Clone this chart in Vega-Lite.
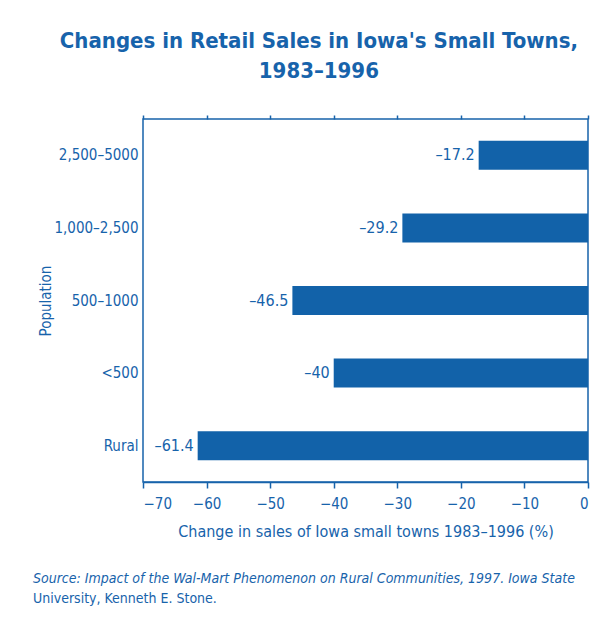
{
  "$schema": "https://vega.github.io/schema/vega-lite/v6.json",
  "background": "white",
  "padding": {"left": 32, "top": 29, "right": 5, "bottom": 5},
  "title": {
    "text": ["Changes in Retail Sales in Iowa's Small Towns,", "1983–1996"],
    "font": "DejaVu Sans Condensed, Roboto, sans-serif",
    "fontWeight": "bold",
    "fontSize": 22,
    "lineHeight": 30,
    "color": "#1763ab",
    "anchor": "middle",
    "dx": 8,
    "offset": 31
  },
  "vconcat": [
    {
      "width": 445,
      "height": 363,
      "title": {
        "text": "Source: Impact of the Wal-Mart Phenomenon on Rural Communities, 1997. Iowa State",
        "subtitle": "University, Kenneth E. Stone.",
        "orient": "bottom",
        "anchor": "start",
        "frame": "bounds",
        "dx": -5,
        "font": "DejaVu Sans Condensed, Roboto, sans-serif",
        "fontStyle": "italic",
        "fontWeight": "normal",
        "fontSize": 14,
        "color": "#1763ab",
        "subtitleFont": "DejaVu Sans Condensed, Roboto, sans-serif",
        "subtitleFontSize": 14,
        "subtitleColor": "#1763ab",
        "subtitlePadding": 6,
        "offset": 33
      },
      "data": {
        "values": [
          {"population": "2,500–5000", "value": -17.2, "label": "–17.2"},
          {"population": "1,000–2,500", "value": -29.2, "label": "–29.2"},
          {"population": "500–1000", "value": -46.5, "label": "–46.5"},
          {"population": "<500", "value": -40, "label": "–40"},
          {"population": "Rural", "value": -61.4, "label": "–61.4"}
        ]
      },
      "resolve": {"axis": {"x": "independent"}},
      "layer": [
        {
          "mark": {"type": "bar", "color": "#1262a9"},
          "encoding": {
            "y": {
              "field": "population",
              "type": "nominal",
              "sort": null,
              "scale": {"paddingInner": 0.6, "paddingOuter": 0.3},
              "axis": {"title": "Population", "ticks": false, "labelPadding": 5, "titlePadding": 1, "domain": false}
            },
            "x": {
              "field": "value",
              "type": "quantitative",
              "scale": {"domain": [-70, 0], "nice": false},
              "axis": {
                "orient": "bottom",
                "title": "Change in sales of Iowa small towns 1983–1996  (%)",
                "titleFontSize": 16,
                "values": [-70, -60, -50, -40, -30, -20, -10, 0],
                "tickSize": 6,
                "labelPadding": 8,
                "titlePadding": 12
              }
            }
          }
        },
        {
          "mark": {"type": "text", "align": "right", "baseline": "middle", "dx": -4, "font": "DejaVu Sans Condensed, Roboto, sans-serif", "fontSize": 16, "color": "#1763ab"},
          "encoding": {
            "y": {"field": "population", "type": "nominal", "sort": null},
            "x": {
              "field": "value",
              "type": "quantitative",
              "axis": {
                "orient": "top",
                "title": null,
                "labels": false,
                "values": [-70, -60, -50, -40, -30, -20, -10, 0],
                "tickSize": 4,
                "domain": false
              }
            },
            "text": {"field": "label"}
          }
        }
      ]
    }
  ],
  "config": {
    "view": {"stroke": "#1763ab", "strokeWidth": 1.5},
    "axis": {
      "grid": false,
      "labelFont": "DejaVu Sans Condensed, Roboto, sans-serif",
      "labelFontSize": 15,
      "labelColor": "#1763ab",
      "titleFont": "DejaVu Sans Condensed, Roboto, sans-serif",
      "titleFontSize": 15,
      "titleFontWeight": "normal",
      "titleColor": "#1763ab",
      "domainColor": "#1763ab",
      "tickColor": "#1763ab",
      "domainWidth": 1.5,
      "tickWidth": 1.5
    }
  }
}
